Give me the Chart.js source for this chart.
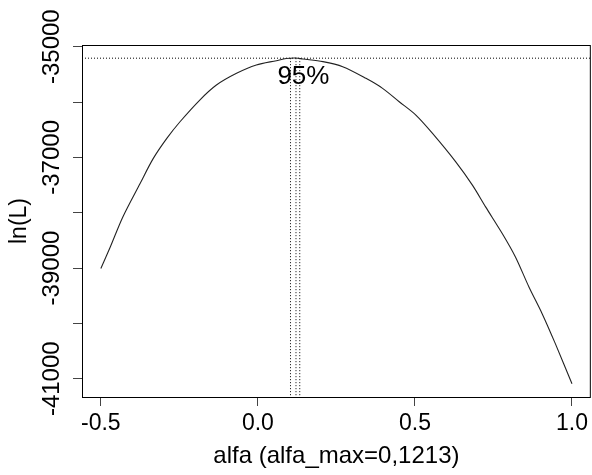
<!DOCTYPE html>
<html>
<head>
<meta charset="utf-8">
<script src="https://cdn.jsdelivr.net/npm/chart.js@4"></script>
<style>
  body { margin: 0; background: #fff; }
</style>
</head>
<body>
<canvas id="chart" width="592" height="475"></canvas>
<script>
// profile log-likelihood
const alfa = [-0.50, -0.47, -0.43, -0.375, -0.333, -0.29, -0.248, -0.185, -0.132, -0.068, -0.005, 0.059, 0.09, 0.1213,
  0.143, 0.207, 0.27, 0.344, 0.397, 0.45, 0.503, 0.556, 0.63, 0.683, 0.725, 0.778, 0.82, 0.863, 0.905, 0.947, 1.0];
const lnL = [-39009, -38619, -38076, -37471, -37019, -36657, -36357, -35964, -35693, -35481, -35331, -35253, -35215, -35206,
  -35223, -35271, -35362, -35572, -35753, -35995, -36236, -36567, -37081, -37502, -37895, -38376, -38800, -39342, -39824, -40366, -41090];

// 95% interval: level line and the three vertical marks (lower, max, upper)
const ciLevel = -35208;
const ciAlfa = [0.1038, 0.1213, 0.1333];
const ciLabel = "95%";
const ciLabelPos = [0.145, -35548];

const xTicks = [-0.5, 0.0, 0.5, 1.0];
const xTickLabels = ["-0.5", "0.0", "0.5", "1.0"];
const yTicks = [-41000, -40000, -39000, -38000, -37000, -36000, -35000];
const yTickLabels = ["-41000", "", "-39000", "", "-37000", "", "-35000"];

const xMin = -0.56, xMax = 1.06;
const yMin = -41330, yMax = -34970;

const font = "'Liberation Sans', Arial, sans-serif";
const dotted = { borderColor: "#000", borderWidth: 1, borderDash: [1, 2], pointRadius: 0, showLine: true };

const datasets = [
  {
    data: alfa.map((a, i) => ({ x: a, y: lnL[i] })),
    borderColor: "#222",
    borderWidth: 1.1,
    pointRadius: 0,
    showLine: true,
    tension: 0.3,
  },
  { ...dotted, data: [{ x: xMin, y: ciLevel }, { x: xMax, y: ciLevel }] },
];
ciAlfa.forEach((a) => {
  datasets.push({ ...dotted, data: [{ x: a, y: ciLevel }, { x: a, y: yMin }] });
});

// box, rotated y labels and the 95% text
const extras = {
  id: "extras",
  afterDraw(chart) {
    const { ctx, chartArea: a, scales } = chart;
    ctx.save();
    ctx.strokeStyle = "#000";
    ctx.lineWidth = 1;
    ctx.strokeRect(a.left + 0.5, a.top + 0.5, a.right - a.left - 1, a.bottom - a.top);

    ctx.fillStyle = "#000";
    ctx.font = "24px " + font;
    ctx.textAlign = "center";
    ctx.textBaseline = "middle";
    yTicks.forEach((v, i) => {
      if (!yTickLabels[i]) return;
      ctx.save();
      ctx.translate(52, scales.y.getPixelForValue(v));
      ctx.rotate(-Math.PI / 2);
      ctx.fillText(yTickLabels[i], 0, 0);
      ctx.restore();
    });

    ctx.font = "26px " + font;
    ctx.fillText(ciLabel, scales.x.getPixelForValue(ciLabelPos[0]), scales.y.getPixelForValue(ciLabelPos[1]));
    ctx.restore();
  },
};

new Chart(document.getElementById("chart"), {
  type: "scatter",
  data: { datasets },
  options: {
    responsive: false,
    animation: false,
    layout: { padding: { top: 45, right: 1, left: 0, bottom: 0 } },
    plugins: { legend: { display: false }, tooltip: { enabled: false } },
    scales: {
      x: {
        type: "linear",
        min: xMin,
        max: xMax,
        afterBuildTicks: (s) => { s.ticks = xTicks.map((v) => ({ value: v })); },
        afterFit: (s) => { s.height = 78; },
        ticks: {
          padding: 4,
          color: "#000",
          font: { family: font, size: 23 },
          maxRotation: 0,
          callback: (v) => xTickLabels[xTicks.indexOf(v)],
        },
        grid: { drawOnChartArea: false, drawTicks: true, tickLength: 9, color: "#444" },
        border: { display: false },
        title: {
          display: true,
          text: "alfa (alfa_max=0,1213)",
          color: "#000",
          font: { family: font, size: 24 },
          padding: { top: 0, bottom: 4 },
        },
      },
      y: {
        type: "linear",
        min: yMin,
        max: yMax,
        afterBuildTicks: (s) => { s.ticks = yTicks.map((v) => ({ value: v })); },
        afterFit: (s) => { s.width = 82; },
        ticks: { display: false },
        grid: { drawOnChartArea: false, drawTicks: true, tickLength: 9, color: "#444" },
        border: { display: false },
        title: {
          display: true,
          text: "ln(L)",
          color: "#000",
          font: { family: font, size: 23 },
          padding: { top: 6, bottom: 0 },
        },
      },
    },
  },
  plugins: [extras],
});
</script>
</body>
</html>
